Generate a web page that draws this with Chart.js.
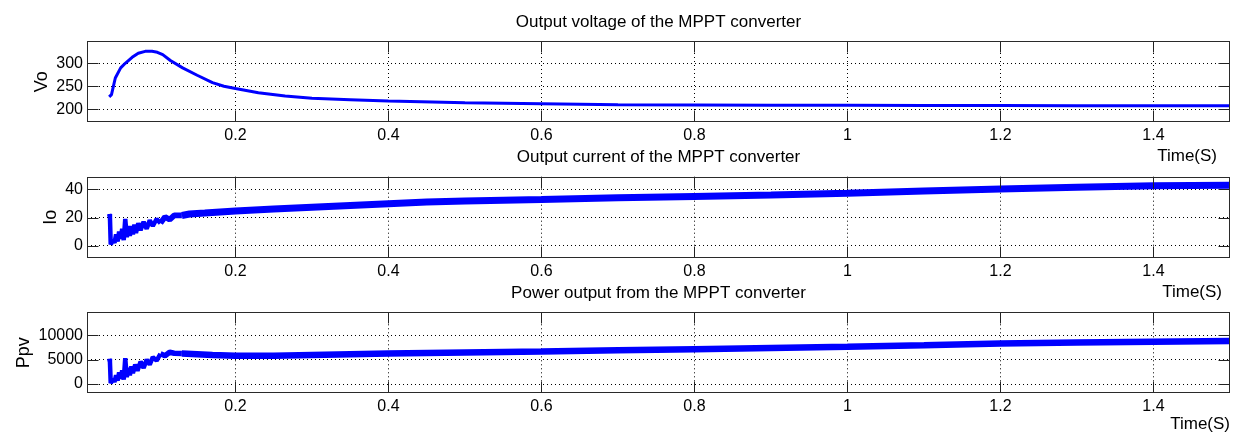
<!DOCTYPE html>
<html><head><meta charset="utf-8">
<script src="https://cdn.jsdelivr.net/npm/chart.js@4.4.1/dist/chart.umd.min.js"></script>
<style>
html,body{margin:0;padding:0;background:#fff;}
#wrap{position:relative;width:1245px;height:434px;overflow:hidden;background:#fff}
#wrap canvas{position:absolute;left:0;top:0;}
</style></head><body>
<div id="wrap">
<canvas id="c1" width="1245" height="434"></canvas>
<canvas id="c2" width="1245" height="434"></canvas>
<canvas id="c3" width="1245" height="434"></canvas>
</div>
<script>
// ---- data ----
const xTicks = [0.2, 0.4, 0.6, 0.8, 1, 1.2, 1.4];

const voTicks = [200, 250, 300];
const voTime = [0.035,0.038,0.043,0.050,0.056,0.065,0.073,0.082,0.091,0.098,0.105,0.115,0.131,0.15,0.17,0.185,0.2,0.23,0.265,0.3,0.35,0.4,0.5,0.6,0.7,0.8,0.9,1.0,1.1,1.2,1.3,1.4,1.5];
const voValues = [227,232,268,290,300,313,322,326,326,324,319,306,290,274,258,250,245,236,229,224,221,218,214,212,210,209.5,209,209,208.5,208,207.5,207.5,207.5];

const ioTicks = [0, 20, 40];
const ioTime = [0.035,0.036,0.037,0.040,0.042,0.044,0.046,0.048,0.050,0.052,0.054,0.056,0.058,0.060,0.062,0.064,0.066,0.068,0.070,0.073,0.076,0.080,0.084,0.088,0.092,0.097,0.102,0.108,0.114,0.12,0.13,0.14,0.16,0.18,0.2,0.25,0.3,0.35,0.4,0.45,0.5,0.6,0.7,0.8,0.9,1.0,1.1,1.2,1.3,1.4,1.5];
const ioValues = [22.5,20,1,4,2,8,3,10,5,12,4,19,6,14,7,14,8,15,9,16,11,17,12,18,14,19,16,20.5,18.5,21.5,21.5,22.5,23.2,24,24.7,26,27.3,28.6,29.8,31,31.8,32.8,34,35,36,37.2,38.8,40.2,41.5,42.6,43];

const ppvTicks = [0, 5000, 10000];
const ppvTime = [0.035,0.036,0.037,0.040,0.042,0.044,0.046,0.048,0.050,0.052,0.054,0.056,0.058,0.060,0.062,0.064,0.066,0.069,0.072,0.076,0.080,0.084,0.088,0.092,0.097,0.102,0.108,0.114,0.12,0.13,0.15,0.17,0.2,0.25,0.3,0.35,0.4,0.5,0.6,0.7,0.8,0.9,1.0,1.1,1.2,1.3,1.4,1.5];
const ppvValues = [5200,4500,200,1000,400,1800,700,2400,1100,2800,900,5300,1400,3300,1800,3600,2200,4000,2700,4600,3300,5000,4000,5500,4800,6200,5800,6500,6300,6250,6100,5950,5800,5800,5950,6100,6250,6450,6650,6900,7150,7400,7650,7950,8300,8500,8680,8800];

const FONT = '"Liberation Sans", Arial, Helvetica, sans-serif';
Chart.defaults.font.family = FONT;
Chart.defaults.font.size = 16;
Chart.defaults.color = '#000';

const framePlugin = {
  id: 'frame',
  afterDraw(chart, args, o) {
    const {ctx, chartArea: a, scales: {x, y}} = chart;
    ctx.save();
    const L = Math.round(a.left) + 0.5, R = Math.round(a.right) - 0.5;
    const T = Math.round(a.top) + 0.5, B = Math.round(a.bottom) - 0.5;
    ctx.strokeStyle = '#222';
    ctx.lineWidth = 1;
    ctx.beginPath();
    x.ticks.forEach(t => {
      const px = Math.round(x.getPixelForValue(t.value)) + 0.5;
      ctx.moveTo(px, B); ctx.lineTo(px, B - 11);
      ctx.moveTo(px, T); ctx.lineTo(px, T + 11);
    });
    y.ticks.forEach(t => {
      const py = Math.round(y.getPixelForValue(t.value)) + 0.5;
      ctx.moveTo(L, py); ctx.lineTo(L + 11, py);
      ctx.moveTo(R, py); ctx.lineTo(R - 11, py);
    });
    ctx.stroke();
    ctx.strokeStyle = '#2a2a2a';
    ctx.strokeRect(L, T, R - L, B - T);

    ctx.fillStyle = '#000';
    ctx.font = '16px ' + FONT;
    let maxW = 0;
    y.ticks.forEach(t => { maxW = Math.max(maxW, ctx.measureText(String(t.value)).width); });
    ctx.font = '17px ' + FONT;
    ctx.textBaseline = 'alphabetic';
    ctx.textAlign = 'center';
    ctx.fillText(o.title, (a.left + a.right) / 2, o.titleY);
    ctx.textAlign = 'right';
    ctx.fillText('Time(S)', o.timeX, o.timeY);

    ctx.font = '18px ' + FONT;
    const cx = a.left - 4 - maxW - 14;
    ctx.translate(cx, (a.top + a.bottom) / 2);
    ctx.rotate(-Math.PI / 2);
    ctx.textAlign = 'center';
    ctx.textBaseline = 'middle';
    ctx.fillText(o.yTitle, 0, 0);
    ctx.restore();
  }
};

function panel(id, times, values, yTicks, yMin, yMax, top, bottom, width, thinWidth, texts) {
  const XH = 30;
  new Chart(document.getElementById(id), {
    type: 'line',
    data: {
      datasets: [{
        data: times.map((t, i) => ({x: t, y: values[i]})),
        borderColor: '#0000ff',
        borderWidth: width,
        borderJoinStyle: 'bevel',
        pointRadius: 0,
        tension: 0,
        fill: false,
        segment: { borderWidth: c => (c.p0.parsed.x < 0.1 ? thinWidth : (c.p0.parsed.x < 0.125 ? (thinWidth + width) / 2 : width)) }
      }]
    },
    options: {
      responsive: false,
      animation: false,
      events: [],
      layout: { padding: { left: 0, right: 15, top: top, bottom: 434 - bottom - XH } },
      plugins: { legend: { display: false }, tooltip: { enabled: false }, title: { display: false }, frame: texts },
      scales: {
        x: {
          type: 'linear', min: 0.006, max: 1.5,
          afterBuildTicks: s => { s.ticks = xTicks.map(v => ({value: v})); },
          afterFit: s => { s.height = XH; },
          ticks: { padding: 4, callback: v => String(v), maxRotation: 0, autoSkip: false },
          grid: { color: '#000', lineWidth: 1, drawTicks: false },
          border: { display: false, dash: [1, 3] }
        },
        y: {
          type: 'linear', min: yMin, max: yMax,
          afterBuildTicks: s => { s.ticks = yTicks.map(v => ({value: v})); },
          afterFit: s => { s.width = 87; },
          ticks: { padding: 4, callback: v => String(v), autoSkip: false },
          grid: { color: '#000', lineWidth: 1, drawTicks: false },
          border: { display: false, dash: [1, 3] }
        }
      }
    },
    plugins: [framePlugin]
  });
}

panel('c1', voTime, voValues, voTicks, 171.7, 348.5, 41, 122.3, 3, 3,
  {title: 'Output voltage of the MPPT converter', titleY: 26.5, timeX: 1217, timeY: 161, yTitle: 'Vo'});
panel('c2', ioTime, ioValues, ioTicks, -8.5, 49, 176.7, 257.7, 7, 4.5,
  {title: 'Output current of the MPPT converter', titleY: 162, timeX: 1222, timeY: 297, yTitle: 'Io'});
panel('c3', ppvTime, ppvValues, ppvTicks, -1900, 14700, 312.3, 393.3, 6.5, 4.5,
  {title: 'Power output from the MPPT converter', titleY: 298, timeX: 1230, timeY: 429, yTitle: 'Ppv'});
</script>
</body></html>
